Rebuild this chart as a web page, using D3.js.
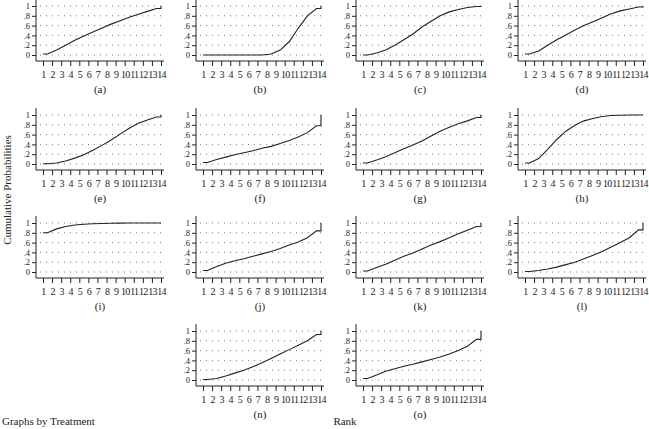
<!DOCTYPE html>
<html><head><meta charset="utf-8">
<script src="https://cdn.jsdelivr.net/npm/d3@7/dist/d3.min.js"></script>
<style>body{margin:0;background:#fff}svg{display:block}text{font-family:"Liberation Serif","DejaVu Serif",serif;fill:#222}</style>
</head><body><svg id="c" width="649" height="429"></svg>
<script>
const ranks = [1,2,3,4,5,6,7,8,9,10,11,12,13,14];
const yTicks = [0,0.2,0.4,0.6,0.8,1];
const yTickLabels = ["0",".2",".4",".6",".8","1"];
const labels = ["(a)","(b)","(c)","(d)","(e)","(f)","(g)","(h)","(i)","(j)","(k)","(l)","(n)","(o)"];
// cumulative probability by rank for each treatment
const a = [0.02,0.10,0.20,0.30,0.39,0.47,0.55,0.63,0.70,0.77,0.83,0.89,0.95,1.00];
const b = [0,0,0,0,0,0,0,0.02,0.10,0.27,0.55,0.80,0.95,1.00];
const c = [0,0.04,0.10,0.20,0.31,0.43,0.57,0.69,0.80,0.88,0.93,0.97,0.99,1.00];
const d = [0.02,0.08,0.20,0.31,0.41,0.51,0.60,0.68,0.76,0.84,0.90,0.94,0.98,1.00];
const e = [0.005,0.02,0.06,0.12,0.19,0.28,0.38,0.49,0.61,0.73,0.83,0.90,0.96,1.00];
const f = [0.03,0.09,0.14,0.19,0.23,0.27,0.32,0.36,0.42,0.48,0.55,0.64,0.78,1.00];
const g = [0.02,0.08,0.15,0.23,0.31,0.39,0.47,0.57,0.67,0.75,0.82,0.88,0.95,1.00];
const h = [0.02,0.11,0.30,0.50,0.67,0.79,0.88,0.93,0.97,0.99,0.995,1,1,1.00];
const i = [0.80,0.88,0.93,0.96,0.975,0.985,0.99,0.995,0.997,1,1,1,1,1.00];
const j = [0.03,0.11,0.18,0.23,0.27,0.32,0.37,0.42,0.48,0.55,0.61,0.70,0.84,1.00];
const k = [0.02,0.09,0.16,0.24,0.32,0.39,0.47,0.55,0.62,0.70,0.78,0.85,0.93,1.00];
const l = [0.01,0.03,0.06,0.10,0.15,0.20,0.27,0.34,0.42,0.51,0.60,0.70,0.86,1.00];
const n = [0.01,0.03,0.08,0.14,0.20,0.27,0.35,0.44,0.53,0.62,0.71,0.80,0.93,1.00];
const o = [0.03,0.10,0.18,0.23,0.28,0.32,0.37,0.42,0.47,0.53,0.60,0.69,0.83,1.00];
const series = [a,b,c,d,e,f,g,h,i,j,k,l,n,o];
const cells = [[0,0],[0,1],[0,2],[0,3],[1,0],[1,1],[1,2],[1,3],[2,0],[2,1],[2,2],[2,3],[3,1],[3,2]];

const svg = d3.select("#c");
const colX = [36,196,356,518];
const rowY = [6,115,223,331];
const plotH = 49;

series.forEach((vals, idx) => {
  const [r, cI] = cells[idx];
  const ax = colX[cI], top = rowY[r];
  const x = d3.scaleLinear().domain([1,14]).range([ax+7, ax+125]);
  const y = d3.scaleLinear().domain([0,1]).range([top+plotH, top]);
  const G = svg.append("g");
  // grid
  G.selectAll("line.grid").data(yTicks).join("line")
    .attr("x1", x(1)-3).attr("x2", x(14)+3)
    .attr("y1", v=>y(v)).attr("y2", v=>y(v))
    .attr("stroke","#777").attr("stroke-width",1).attr("stroke-dasharray","1,5");
  // axes
  const yAx = d3.axisLeft(y).tickValues(yTicks).tickFormat((v,q)=>yTickLabels[q]).tickSize(4).tickSizeOuter(0);
  const gy = G.append("g").attr("transform",`translate(${ax},0)`).call(yAx);
  gy.select(".domain").attr("d", `M0,${top-7}V${top+plotH+6}`);
  const xAx = d3.axisBottom(x).tickValues(ranks).tickFormat(d3.format("d")).tickSize(5).tickSizeOuter(0);
  const gx = G.append("g").attr("transform",`translate(0,${top+plotH+6})`).call(xAx);
  gx.select(".domain").attr("d", `M${ax},0H${x(14)+3}`);
  [gx,gy].forEach(gg=>{
    gg.selectAll("path,line").attr("stroke","#222").attr("stroke-width",1);
    gg.selectAll("text").attr("fill","#222");
  });
  gy.selectAll("text").attr("x",-6).attr("font-size","8.5px");
  gx.selectAll("text").attr("y",10).attr("font-size","10px").attr("letter-spacing","-0.7px");
  // cumulative line: flat half-steps at both ends, midpoints between ranks
  const pts = [[1, vals[0]]];
  for (let q = 0; q < 13; q++) pts.push([ranks[q]+0.5, vals[q]]);
  pts.push([14, vals[12]]);
  pts.push([14, vals[13]]);
  G.append("path").datum(pts)
    .attr("d", d3.line().x(p=>x(p[0])).y(p=>y(p[1])))
    .attr("fill","none").attr("stroke","#222").attr("stroke-width",1.1);
  G.append("text").attr("x", ax+64).attr("y", top+plotH+38)
    .attr("text-anchor","middle").attr("font-size","11px").attr("fill","#222").text(labels[idx]);
});

svg.append("text").attr("transform","translate(11,190) rotate(-90)")
  .attr("text-anchor","middle").attr("font-size","11px").text("Cumulative Probabilities");
svg.append("text").attr("x",2).attr("y",425).attr("font-size","11px").text("Graphs by Treatment");
svg.append("text").attr("x",345).attr("y",425).attr("text-anchor","middle").attr("font-size","11px").text("Rank");
</script></body></html>
